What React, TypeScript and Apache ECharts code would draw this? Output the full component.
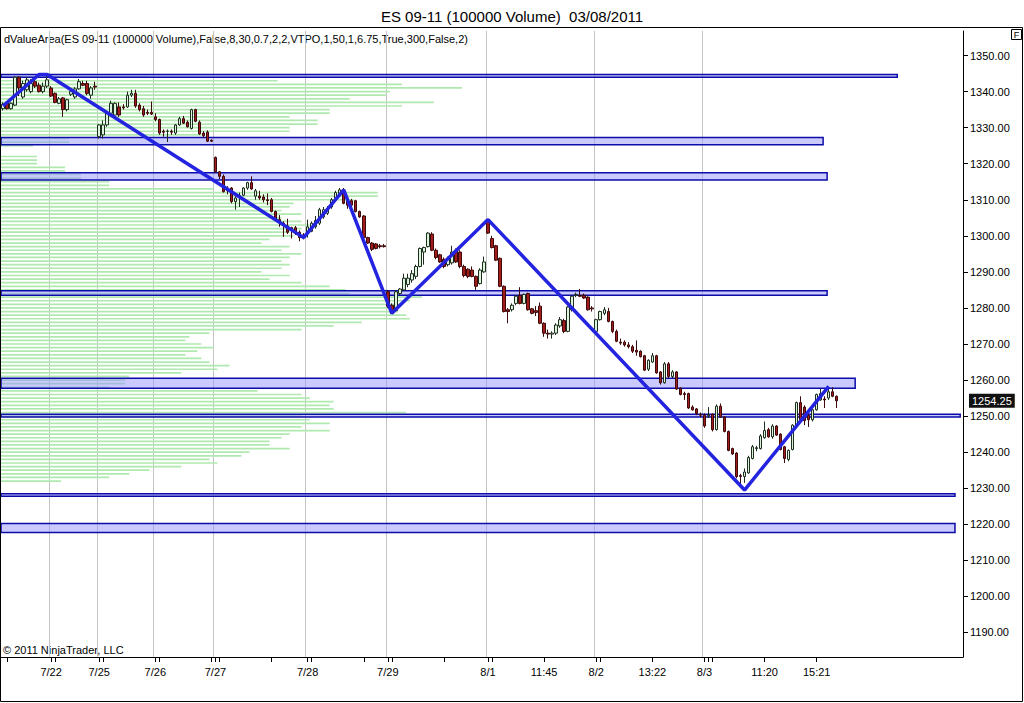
import React, { useEffect, useRef } from 'react';
import * as echarts from 'echarts';

const TITLE = 'ES 09-11 (100000 Volume)  03/08/2011';
const INDICATOR = 'dValueArea(ES 09-11 (100000 Volume),False,8,30,0.7,2,2,VTPO,1,50,1,6.75,True,300,False,2)';
const COPYRIGHT = '© 2011 NinjaTrader, LLC';

// OHLC of the 100000-volume bars (ES 09-11)
const OPEN = [
  1335.25, 1337, 1335.25, 1336.25, 1344, 1338.5, 1340.5, 1340, 1342.75, 1341.75,
  1340, 1341.5, 1341, 1339.5, 1336.75, 1338.25, 1335, 1339.25, 1338.5, 1340.75,
  1342.25, 1342.25, 1339, 1341.5, 1327.5, 1328, 1330.75, 1334, 1333.5, 1335.75,
  1335.75, 1335.75, 1339, 1339.5, 1336.25, 1335.25, 1334.25, 1334.25, 1333, 1332.25,
  1329, 1329, 1329, 1328.5, 1330.75, 1332.5, 1331.5, 1329.75, 1335, 1331.5,
  1328.5, 1328.75, 1326.5, 1321.75, 1317.75, 1316.5, 1313.25, 1313.25, 1309.5, 1310.75,
  1311.25, 1313.25, 1314.75, 1311, 1311, 1310.75, 1310, 1310, 1306.75, 1304.5,
  1303.5, 1302.75, 1302.25, 1302.25, 1301, 1300.25, 1300.75, 1301.25, 1302.5, 1303.5,
  1305.25, 1306.25, 1308, 1310.5, 1311.75, 1312.75, 1310, 1309.75, 1309.75, 1306.75,
  1305.5, 1299.5, 1298, 1297.75, 1297.25, 1297.25, 1284.5, 1280.75, 1279.25, 1284,
  1285, 1286.5, 1287.75, 1288.75, 1291.5, 1295.5, 1297, 1300.5, 1296, 1294.75,
  1293.5, 1292, 1292.5, 1296, 1295.5, 1291.5, 1290.75, 1290.5, 1288.75, 1286.75,
  1290, 1304.25, 1299.25, 1297.25, 1293.75, 1286, 1279.5, 1279.5, 1281.25, 1283.5,
  1281.25, 1284, 1279.75, 1279.25, 1280.5, 1275.75, 1273, 1272.75, 1273, 1275,
  1276.5, 1273.5, 1279.5, 1283.5, 1283.5, 1283.5, 1283, 1280, 1273.5, 1276.75,
  1278.5, 1279, 1276.25, 1273.5, 1270.5, 1270.5, 1269.75, 1269.25, 1268.25, 1268,
  1266.75, 1263, 1265, 1266.75, 1262.25, 1259.25, 1264.5, 1261, 1262.25, 1257.75,
  1256.25, 1256.25, 1252.5, 1252, 1250.5, 1250.25, 1250, 1250.5, 1246.25, 1252.75,
  1249.75, 1245.75, 1241, 1239.75, 1233.5, 1233.25, 1234.25, 1238.25, 1241, 1241,
  1244, 1246.25, 1244.25, 1247.25, 1245, 1241.5, 1238, 1240.75, 1247.5, 1253.75,
  1252.5, 1250.25, 1249, 1251.75, 1254.5, 1254.75, 1255, 1256.75, 1255.5,
];
const HIGH = [
  1337, 1337.25, 1337, 1344.25, 1344.25, 1343, 1344, 1343.5, 1344, 1342.5,
  1342.5, 1344.75, 1341.5, 1339.75, 1338.5, 1338.5, 1338, 1340.5, 1341.25, 1343.5,
  1343, 1343, 1341.5, 1342.75, 1331, 1332, 1334.5, 1337.5, 1337, 1337,
  1336.5, 1340, 1340.5, 1340.5, 1336.75, 1336, 1335, 1337.25, 1334, 1332.5,
  1329.5, 1329.5, 1329.5, 1331, 1333, 1333.25, 1332, 1335.25, 1335.25, 1332,
  1329, 1329.25, 1326.75, 1322, 1318, 1317, 1313.75, 1313.5, 1311, 1312,
  1313.5, 1315, 1316.5, 1313, 1312.5, 1311.5, 1311.75, 1310.5, 1307, 1305.75,
  1304, 1304.75, 1302.5, 1302.75, 1301.5, 1300.75, 1304.5, 1304, 1305.5, 1307.75,
  1308, 1308.25, 1310.5, 1312.5, 1313.25, 1313.25, 1310.5, 1310.25, 1310, 1307,
  1305.75, 1299.75, 1298.25, 1298, 1297.75, 1297.75, 1285, 1281.25, 1285, 1285.5,
  1289.5, 1289.5, 1290.5, 1292, 1296.75, 1297, 1301, 1301, 1296.5, 1295,
  1294, 1294.25, 1297.25, 1296.5, 1296, 1292, 1291, 1291.5, 1289, 1291,
  1294.25, 1304.5, 1300, 1297.5, 1294, 1286.25, 1280, 1281.25, 1283.5, 1285.75,
  1284, 1284.25, 1280, 1280.5, 1281.5, 1276, 1274, 1273.5, 1275.75, 1277.5,
  1277, 1280.5, 1283.5, 1284.25, 1285.25, 1284, 1283.25, 1280.5, 1277, 1279.25,
  1280.25, 1280, 1276.5, 1274, 1271.5, 1271, 1270.5, 1269.75, 1271, 1268.25,
  1267, 1265.75, 1267.5, 1267, 1262.5, 1265, 1265, 1262.75, 1262.5, 1258,
  1256.75, 1256.5, 1253, 1252.25, 1251, 1250.75, 1252.5, 1250.75, 1253.25, 1253.5,
  1250, 1246, 1241.25, 1240, 1234, 1235.5, 1239, 1242, 1241.75, 1245,
  1248.5, 1246.75, 1247.75, 1247.5, 1245.25, 1241.75, 1240.75, 1247.75, 1254, 1255.5,
  1253, 1250.75, 1252, 1256.25, 1257.5, 1255.5, 1257.75, 1258, 1255.75,
];
const LOW = [
  1334.75, 1335, 1335, 1336, 1338.75, 1338, 1340, 1339.5, 1341, 1339.75,
  1339.5, 1341, 1338.5, 1336.75, 1336.5, 1333, 1334.5, 1338.75, 1338, 1340.5,
  1341.5, 1339, 1338, 1340.5, 1327, 1327, 1330.25, 1333.5, 1333, 1333,
  1335, 1335.5, 1338.5, 1335.5, 1334.5, 1333, 1333.5, 1333.5, 1331.75, 1328,
  1327.5, 1326, 1328, 1328, 1330.5, 1331, 1330, 1329.5, 1331.5, 1328,
  1327.25, 1326, 1326, 1317.5, 1315.75, 1312, 1311.5, 1309, 1307.25, 1308,
  1311, 1312.75, 1312.75, 1310, 1310, 1309.25, 1308.5, 1306.5, 1304, 1302.5,
  1299.75, 1300.5, 1299.25, 1300.25, 1298.5, 1299, 1299.5, 1301, 1302, 1303,
  1304.75, 1305.75, 1307.5, 1310, 1311.5, 1308.75, 1307.5, 1308, 1306.5, 1305,
  1299.25, 1297.75, 1295.75, 1296.25, 1296.5, 1296.75, 1280, 1278.5, 1279, 1283.5,
  1284.75, 1285.75, 1287, 1288, 1291.25, 1292, 1296.75, 1295.75, 1293.5, 1292.5,
  1291, 1291.5, 1292, 1292.5, 1291, 1288.5, 1288.25, 1288.5, 1285, 1286.5,
  1289.75, 1300.5, 1296.5, 1293, 1285.75, 1278.75, 1275.75, 1279, 1280.75, 1281,
  1281, 1279.25, 1278.25, 1277.75, 1275.5, 1272, 1271.5, 1271.5, 1272.5, 1274.5,
  1273, 1273.25, 1279, 1283, 1283, 1282.5, 1279.25, 1279, 1273.25, 1276.5,
  1278, 1276, 1273, 1270.5, 1269.75, 1269.25, 1268.75, 1267.5, 1266.75, 1266.25,
  1262.5, 1262.5, 1264.75, 1261.75, 1258.75, 1259, 1260.5, 1260.5, 1257.25, 1255.75,
  1254.5, 1252, 1251.5, 1250.25, 1249.75, 1246.75, 1249.5, 1245.75, 1246, 1249.5,
  1245.5, 1240.25, 1239.25, 1232.75, 1230.5, 1231.5, 1234, 1238, 1240.25, 1240.75,
  1243.75, 1244, 1243.75, 1244.5, 1240.5, 1237, 1237.5, 1240.5, 1247.25, 1248.5,
  1247.5, 1247, 1248.5, 1251.5, 1254.25, 1252.25, 1254.5, 1255.25, 1252.25,
];
const CLOSE = [
  1336.5, 1335.25, 1336.75, 1344, 1341, 1342.25, 1343.25, 1342.25, 1341.5, 1340,
  1341.5, 1343.25, 1338.75, 1337, 1338, 1335, 1337.75, 1340, 1340.75, 1342.75,
  1341.75, 1339.5, 1341, 1341.25, 1330.75, 1330.75, 1334, 1336.75, 1336.75, 1333.5,
  1335.5, 1339, 1339.5, 1336, 1335, 1333.5, 1334, 1333.75, 1332.25, 1328.5,
  1328.75, 1329, 1328.75, 1330.75, 1332.5, 1331.25, 1330.25, 1335, 1331.75, 1328.25,
  1327.75, 1326.25, 1326.25, 1317.75, 1316.5, 1312.25, 1312.5, 1309.5, 1310.5, 1311.25,
  1313.25, 1314.75, 1313, 1312.5, 1310.5, 1310, 1309.75, 1306.75, 1304.5, 1304,
  1303, 1301, 1301.75, 1300.75, 1299.5, 1299.75, 1302.5, 1303.5, 1304.25, 1307.25,
  1307.25, 1307.5, 1310, 1312, 1312.75, 1309, 1308.5, 1308.5, 1306.75, 1305.25,
  1299.5, 1298, 1296.25, 1296.5, 1297, 1297, 1280.5, 1278.75, 1284.5, 1285.25,
  1288.25, 1288.25, 1289.5, 1291.5, 1296.5, 1296.75, 1300.75, 1296, 1294, 1292.75,
  1291.5, 1293.75, 1295.5, 1292.75, 1291.5, 1289, 1288.75, 1288.75, 1286, 1290.5,
  1292.75, 1300.75, 1296.75, 1293.25, 1286, 1279, 1279, 1280.75, 1283.25, 1281.25,
  1283.75, 1279.5, 1278.5, 1278.75, 1275.75, 1273, 1272.75, 1273, 1275.25, 1276.75,
  1273.5, 1280.25, 1283.25, 1283.75, 1283.25, 1282.75, 1279.5, 1279.75, 1276.75, 1279,
  1279.5, 1276.25, 1273.5, 1270.75, 1270.25, 1269.75, 1269.25, 1268, 1267.75, 1266.5,
  1262.75, 1265.5, 1266.75, 1262, 1259.25, 1264.5, 1261, 1262.25, 1257.5, 1256,
  1256, 1252.25, 1251.75, 1250.75, 1250.25, 1247.25, 1250.25, 1246.25, 1252.75, 1249.75,
  1245.75, 1240.5, 1239.5, 1233.25, 1233.25, 1234.5, 1238.5, 1241.5, 1241.25, 1244.5,
  1246, 1244.25, 1247.25, 1244.75, 1240.75, 1238.25, 1240.5, 1247.5, 1253.75, 1249,
  1248.75, 1249, 1251.75, 1256, 1256.25, 1254.5, 1256.75, 1255.5, 1254.25,
];

// x axis: bar slots, labels and session starts
const SLOT_COUNT = 240;
const X_LABEL_BARS = [12, 24, 38, 53, 76, 96, 121, 135, 148, 162, 175, 190, 203];
const X_LABELS = ['7/22', '7/25', '7/26', '7/27', '7/28', '7/29', '8/1', '11:45', '8/2', '13:22', '8/3', '11:20', '15:21'];
const SESSION_BARS = [12, 24, 38, 53, 76, 96, 121, 148, 175];
const X_TICK_BARS = [1, 12, 13, 24, 25, 38, 39, 52, 53, 54, 67, 76, 77, 90, 96, 97, 110, 121, 122, 135, 148, 149, 162, 175, 176, 177, 190, 203];

// y axis
const Y_TICKS = [1190, 1200, 1210, 1220, 1230, 1240, 1250, 1260, 1270, 1280, 1290, 1300, 1310, 1320, 1330, 1340, 1350];
const Y_MIN = 1183.2;
const Y_MAX = 1356.8;

// value-area bands: price range and right end (in bar slots)
const BAND_LOW = [1344, 1325.25, 1315.5, 1283.5, 1257.75, 1249.75, 1227.75, 1217.75];
const BAND_HIGH = [1344.75, 1327.25, 1317.5, 1284.75, 1260.5, 1250.5, 1228.5, 1220.25];
const BAND_END = [223.6, 205.1, 206.1, 206.1, 213.1, 239.3, 238, 238];

// volume profile: one value per point, from PROFILE_TOP downward
const PROFILE_TOP = 1344;
const PROFILE_VOL = [
  37, 69, 100, 115, 97, 96, 87, 108, 100, 82,
  82, 72, 79, 79, 72, 72, 50, 17, 17, 8,
  0, 0, 9, 9, 9, 16, 16, 20, 20, 27,
  27, 53, 94, 94, 88, 73, 72, 70, 75, 70,
  75, 77, 75, 72, 73, 67, 65, 72, 70, 75,
  72, 70, 72, 70, 65, 72, 67, 75, 82, 86,
  87, 105, 102, 100, 97, 99, 101, 102, 90, 83,
  75, 52, 47, 46, 50, 53, 49, 46, 50, 52,
  57, 54, 45, 32, 31, 31, 27, 64, 75, 77,
  83, 82, 83, 101, 75, 77, 82, 75, 82, 72,
  70, 67, 67, 72, 62, 60, 52, 54, 45, 37,
  32, 27, 15,
];

// zigzag swing points
const ZIG_BAR = [0, 9, 11, 75, 85, 97, 121, 185, 206];
const ZIG_PRICE = [1336, 1344.75, 1344.75, 1299.5, 1312.75, 1278.5, 1304.5, 1229.5, 1258.25];

const FONT = '"Liberation Sans", Arial, sans-serif';

export default function App() {
  const ref = useRef<HTMLDivElement>(null);

  useEffect(() => {
    document.body.style.margin = '0';
    if (!ref.current) return;
    const chart = echarts.init(ref.current, null, { renderer: 'svg' });

    const cats = Array.from({ length: SLOT_COUNT }, (_, i) => String(i));
    const labelMap = new Map<number, string>();
    X_LABEL_BARS.forEach((b, k) => labelMap.set(b, X_LABELS[k]));
    const tickSet = new Set(X_TICK_BARS);
    const sessionSet = new Set(SESSION_BARS);
    const lastClose = CLOSE[CLOSE.length - 1];

    const option: any = {
      animation: false,
      backgroundColor: '#ffffff',
      title: {
        text: TITLE,
        left: 'center',
        top: 4,
        textStyle: { fontSize: 15, fontWeight: 'normal', color: '#000', fontFamily: FONT },
      },
      grid: { left: 1, right: 61, top: 31, bottom: 46 },
      xAxis: [
        {
          type: 'category',
          data: cats,
          boundaryGap: true,
          axisLine: { show: true, onZero: false, lineStyle: { color: '#000', width: 1 } },
          axisTick: {
            show: true,
            alignWithLabel: true,
            length: 5,
            interval: (i: number) => tickSet.has(i),
            lineStyle: { color: '#000' },
          },
          axisLabel: {
            show: true,
            interval: (i: number) => labelMap.has(i),
            formatter: (_v: string, i: number) => labelMap.get(i) ?? '',
            color: '#000',
            fontSize: 11,
            fontFamily: FONT,
            margin: 9,
          },
          splitLine: {
            show: true,
            interval: (i: number) => sessionSet.has(i),
            lineStyle: { color: '#c4c4c4', width: 1 },
          },
        },
        {
          type: 'value',
          min: 0,
          max: SLOT_COUNT,
          show: false,
          axisLine: { show: false, onZero: false },
          axisTick: { show: false },
          axisLabel: { show: false },
          splitLine: { show: false },
        },
      ],
      yAxis: {
        type: 'value',
        position: 'right',
        min: Y_MIN,
        max: Y_MAX,
        axisLine: { show: true, onZero: false, lineStyle: { color: '#000', width: 1 } },
        axisTick: { show: true, length: 5, customValues: Y_TICKS, lineStyle: { color: '#000' } },
        axisLabel: {
          customValues: Y_TICKS,
          formatter: (v: number) => v.toFixed(2),
          color: '#000',
          fontSize: 11,
          fontFamily: FONT,
          margin: 7,
        },
        splitLine: { show: false },
      },
      series: [
        {
          type: 'custom',
          name: 'profile',
          xAxisIndex: 1,
          yAxisIndex: 0,
          z: 1,
          silent: true,
          data: PROFILE_VOL.map((v, k) => [v, PROFILE_TOP - k]),
          encode: { x: 0, y: 1 },
          renderItem: (_p: any, api: any) => {
            const price = api.value(1);
            const a = api.coord([0, price]);
            const b = api.coord([api.value(0), price]);
            return {
              type: 'line',
              shape: { x1: a[0], y1: a[1], x2: b[0], y2: b[1] },
              style: { stroke: '#b0e9b0', lineWidth: 1.7 },
            };
          },
        },
        {
          type: 'custom',
          name: 'bands',
          xAxisIndex: 1,
          yAxisIndex: 0,
          z: 2,
          silent: true,
          data: BAND_END.map((e, k) => [e, BAND_LOW[k], BAND_HIGH[k]]),
          encode: { x: 0, y: [1, 2] },
          renderItem: (_p: any, api: any) => {
            const a = api.coord([0, api.value(2)]);
            const b = api.coord([api.value(0), api.value(1)]);
            return {
              type: 'rect',
              shape: { x: a[0], y: a[1], width: b[0] - a[0], height: b[1] - a[1] },
              style: { fill: 'rgba(150,150,255,0.5)', stroke: '#0c0ca8', lineWidth: 1.5 },
            };
          },
        },
        {
          type: 'candlestick',
          name: 'ES 09-11',
          xAxisIndex: 0,
          yAxisIndex: 0,
          z: 3,
          barWidth: 3,
          data: OPEN.map((o, i) => [o, CLOSE[i], LOW[i], HIGH[i]]),
          itemStyle: {
            color: '#dcf3dc',
            color0: '#a31c1c',
            borderColor: '#1e2e1e',
            borderColor0: '#3c0a0a',
            borderWidth: 1,
          },
          markLine: {
            silent: true,
            symbol: 'none',
            data: [{ yAxis: lastClose }],
            lineStyle: { color: 'rgba(0,0,0,0)', width: 0 },
            label: {
              show: true,
              position: 'end',
              formatter: lastClose.toFixed(2),
              color: '#fff',
              backgroundColor: '#111',
              padding: [2, 3, 1, 3],
              fontSize: 11,
              fontFamily: FONT,
              distance: 6,
            },
          },
        },
        {
          type: 'line',
          name: 'zigzag',
          xAxisIndex: 0,
          yAxisIndex: 0,
          z: 5,
          symbol: 'none',
          silent: true,
          data: ZIG_BAR.map((b, k) => [b, ZIG_PRICE[k]]),
          lineStyle: { color: '#2424e0', width: 3.5 },
        },
      ],
      graphic: [
        {
          type: 'text',
          left: 4,
          top: 33,
          silent: true,
          style: { text: INDICATOR, fill: '#000', font: `11px ${FONT}` },
        },
        {
          type: 'text',
          left: 3,
          top: 644,
          silent: true,
          style: { text: COPYRIGHT, fill: '#000', font: `11px ${FONT}` },
        },
        {
          type: 'rect',
          silent: true,
          z: 100,
          shape: { x: 0.5, y: 27.5, width: 1022, height: 674 },
          style: { fill: 'none', stroke: '#000', lineWidth: 1 },
        },
        {
          type: 'rect',
          silent: true,
          z: 100,
          shape: { x: 1011.5, y: 29.5, width: 10, height: 10 },
          style: { fill: '#fff', stroke: '#000', lineWidth: 1 },
        },
        {
          type: 'text',
          silent: true,
          z: 101,
          x: 1016.5,
          y: 35,
          style: { text: 'F', fill: '#000', font: `9px ${FONT}`, align: 'center', verticalAlign: 'middle' },
        },
      ],
    };

    chart.setOption(option);
    return () => chart.dispose();
  }, []);

  return <div ref={ref} style={{ position: 'absolute', left: 0, top: 0, width: 1024, height: 703 }} />;
}
